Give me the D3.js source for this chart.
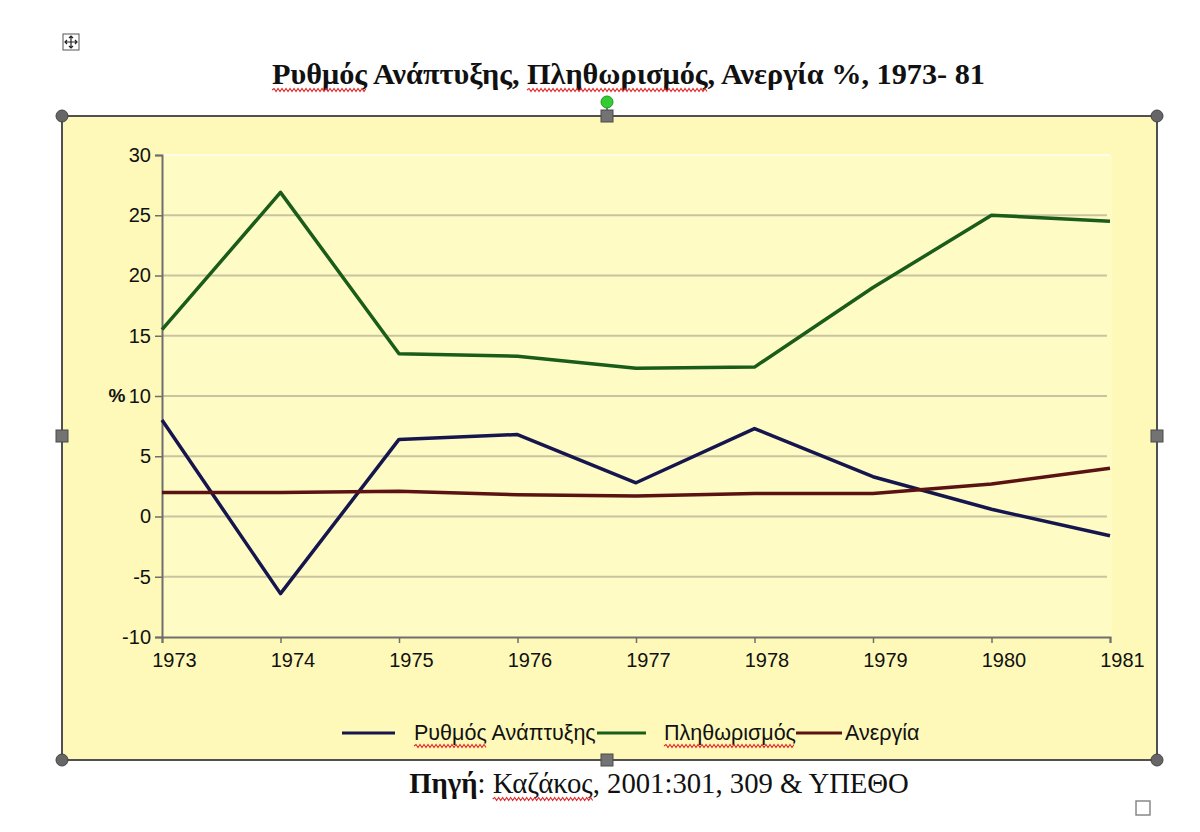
<!DOCTYPE html>
<html><head><meta charset="utf-8">
<script src="https://cdn.jsdelivr.net/npm/d3@7"></script>
<style>body{margin:0;background:#fff}</style>
</head><body>
<svg id="c" width="1200" height="832"></svg>
<script>
const years = [1973, 1974, 1975, 1976, 1977, 1978, 1979, 1980, 1981];
const growth = [8.0, -6.4, 6.4, 6.8, 2.8, 7.3, 3.3, 0.6, -1.6];
const inflation = [15.5, 26.9, 13.5, 13.3, 12.3, 12.4, 19.0, 25.0, 24.5];
const unemployment = [2.0, 2.0, 2.1, 1.8, 1.7, 1.9, 1.9, 2.7, 4.0];
const yTicks = [-10, -5, 0, 5, 10, 15, 20, 25, 30];
const seriesNames = ["Ρυθμός Ανάπτυξης", "Πληθωρισμός", "Ανεργία"];
const titleText = "Ρυθμός Ανάπτυξης, Πληθωρισμός, Ανεργία %, 1973- 81";
const sourceBold = "Πηγή";
const sourceRest = ": Καζάκος, 2001:301, 309 & ΥΠΕΘΟ";

const colors = ["#16164f", "#1a5c1a", "#5a1212"];
const series = [growth, inflation, unemployment];

const svg = d3.select("#c");
const x = d3.scalePoint().domain(years).range([162, 1110]);
const y = d3.scaleLinear().domain([-10, 30]).range([637, 155]);

function squiggle(x1, x2, yy) {
  let d = `M${x1},${yy}`;
  let up = true;
  for (let xx = x1 + 2; xx <= x2; xx += 2) {
    d += `L${xx},${yy + (up ? -1.5 : 1.5)}`;
    up = !up;
  }
  svg.append("path").attr("d", d).attr("fill", "none")
    .attr("stroke", "#e02828").attr("stroke-width", 1.1);
}

// chart frame
svg.append("rect").attr("x", 62).attr("y", 116).attr("width", 1095).attr("height", 644)
  .attr("fill", "#fef9b8").attr("stroke", "#505050").attr("stroke-width", 2);

// plot area
svg.append("rect").attr("x", 162).attr("y", 155).attr("width", 950).attr("height", 482)
  .attr("fill", "#fffbc4");

// gridlines
svg.append("g").selectAll("line").data(yTicks.filter(t => t > -10 && t < 30)).join("line")
  .attr("x1", 163).attr("x2", 1107)
  .attr("y1", d => y(d)).attr("y2", d => y(d))
  .attr("stroke", "#c9c4a0").attr("stroke-width", 2);
svg.append("line").attr("x1", 163).attr("x2", 1110).attr("y1", y(30)).attr("y2", y(30))
  .attr("stroke", "#fffde6").attr("stroke-width", 2);

// axes
const yAxis = d3.axisLeft(y).tickValues(yTicks).tickFormat(d => String(d)).tickSize(7).tickPadding(4);
const gy = svg.append("g").attr("transform", "translate(162,0)").call(yAxis);
gy.select(".domain").attr("stroke", "#6e6e6e").attr("stroke-width", 2);
gy.selectAll(".tick line").attr("stroke", "#6e6e6e").attr("stroke-width", 1.5);
gy.selectAll(".tick text").attr("font-family", "Liberation Sans, Arial, sans-serif")
  .attr("font-size", 20).attr("fill", "#111");

const xAxis = d3.axisBottom(x).tickFormat(d => String(d)).tickSize(6).tickPadding(10);
const gx = svg.append("g").attr("transform", "translate(0,637)").call(xAxis);
gx.select(".domain").attr("stroke", "#6e6e6e").attr("stroke-width", 2);
gx.selectAll(".tick line").attr("stroke", "#6e6e6e").attr("stroke-width", 1.5);
gx.selectAll(".tick text").attr("font-family", "Liberation Sans, Arial, sans-serif")
  .attr("font-size", 20).attr("fill", "#111").attr("dx", 12);

// y axis label
svg.append("text").attr("x", 117).attr("y", 402).attr("text-anchor", "middle")
  .attr("font-family", "Liberation Sans, Arial, sans-serif").attr("font-size", 19)
  .attr("font-weight", "bold").attr("fill", "#111").text("%");

// lines
const line = d3.line().x((d, i) => x(years[i])).y(d => y(d));
series.forEach((s, k) => {
  svg.append("path").datum(s).attr("d", line).attr("fill", "none")
    .attr("stroke", colors[k]).attr("stroke-width", 3.5).attr("stroke-linejoin", "round");
});

// legend
const legendLines = [[342, 395], [597, 646], [796, 842]];
const legendTextX = [414, 664, 845];
seriesNames.forEach((n, k) => {
  svg.append("line").attr("x1", legendLines[k][0]).attr("x2", legendLines[k][1])
    .attr("y1", 733).attr("y2", 733).attr("stroke", colors[k]).attr("stroke-width", 3);
  const t = svg.append("text").attr("x", legendTextX[k]).attr("y", 740)
    .attr("font-family", "Liberation Sans, Arial, sans-serif").attr("font-size", 21.5)
    .attr("fill", "#111").text(n);
  if (k === 0) {
    const w = t.node().getSubStringLength(0, 6);
    squiggle(legendTextX[k], legendTextX[k] + w, 746);
  }
  if (k === 1) {
    const w = t.node().getComputedTextLength();
    squiggle(legendTextX[k], legendTextX[k] + w, 746);
  }
});

// title
const title = svg.append("text").attr("y", 84)
  .attr("font-family", "Liberation Serif, Times New Roman, serif").attr("font-weight", "bold")
  .attr("font-size", 26).attr("fill", "#111").text(titleText);
let tw = title.node().getComputedTextLength();
title.attr("font-size", 26 * 713 / tw);
tw = title.node().getComputedTextLength();
const tx = 628.5 - tw / 2;
title.attr("x", tx);
{
  const n = title.node();
  const w1 = n.getSubStringLength(0, 6);
  squiggle(tx, tx + w1, 90);
  const s2 = titleText.indexOf("Πληθωρισμός");
  const a = n.getSubStringLength(0, s2), b = n.getSubStringLength(s2, 11);
  squiggle(tx + a, tx + a + b, 90);
}

// source
const src = svg.append("text").attr("y", 793)
  .attr("font-family", "Liberation Serif, Times New Roman, serif")
  .attr("font-size", 24).attr("fill", "#111");
src.append("tspan").attr("font-weight", "bold").text(sourceBold);
src.append("tspan").text(sourceRest);
let sw = src.node().getComputedTextLength();
src.attr("font-size", 24 * 500 / sw);
sw = src.node().getComputedTextLength();
const sx = 659 - sw / 2;
src.attr("x", sx);
{
  const n = src.node();
  const full = sourceBold + sourceRest;
  const i = full.indexOf("Καζάκος");
  const a = n.getSubStringLength(0, i), b = n.getSubStringLength(i, 7);
  squiggle(sx + a, sx + a + b, 799);
}

// selection handles
const corners = [[62, 116], [1157, 116], [62, 760], [1157, 760]];
svg.append("g").selectAll("circle").data(corners).join("circle")
  .attr("cx", d => d[0]).attr("cy", d => d[1]).attr("r", 6)
  .attr("fill", "#666").attr("stroke", "#444").attr("stroke-width", 1);
svg.append("line").attr("x1", 607).attr("x2", 607).attr("y1", 103).attr("y2", 116)
  .attr("stroke", "#555").attr("stroke-width", 1.5);
const mids = [[607, 116], [62, 436], [1157, 436], [607, 760]];
svg.append("g").selectAll("rect").data(mids).join("rect")
  .attr("x", d => d[0] - 6).attr("y", d => d[1] - 6).attr("width", 12).attr("height", 12)
  .attr("fill", "#737373").attr("stroke", "#4a4a4a").attr("stroke-width", 1);
svg.append("circle").attr("cx", 607).attr("cy", 102).attr("r", 6)
  .attr("fill", "#33cc33").attr("stroke", "#229922");

// move icon
const mi = svg.append("g").attr("transform", "translate(71,42)");
mi.append("rect").attr("x", -8).attr("y", -8).attr("width", 16).attr("height", 16)
  .attr("fill", "#fff").attr("stroke", "#555").attr("stroke-width", 1);
mi.append("path").attr("d", "M0,-6V6M-6,0H6M-2,-4L0,-6L2,-4M-2,4L0,6L2,4M-4,-2L-6,0L-4,2M4,-2L6,0L4,2")
  .attr("fill", "none").attr("stroke", "#222").attr("stroke-width", 1.2);

// bottom-right square
svg.append("rect").attr("x", 1136).attr("y", 801).attr("width", 14).attr("height", 14)
  .attr("fill", "#fff").attr("stroke", "#888").attr("stroke-width", 1.5);
</script>
</body></html>
